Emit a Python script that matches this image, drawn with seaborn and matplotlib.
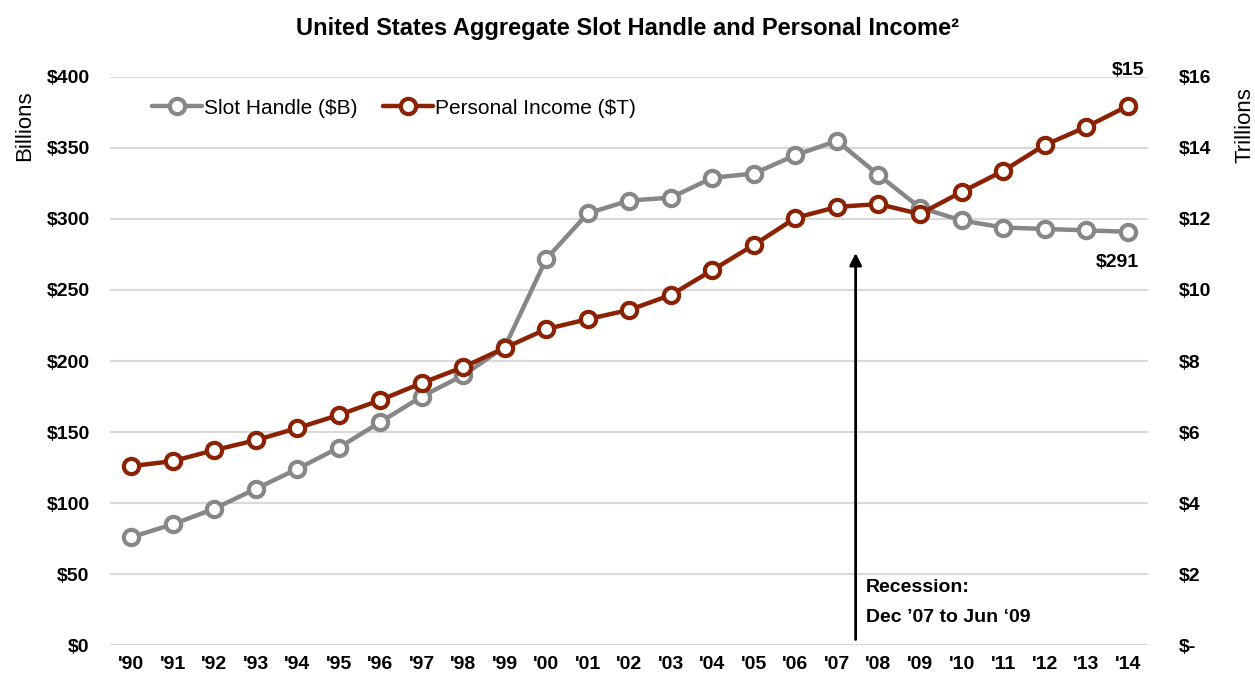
import matplotlib
matplotlib.use("Agg")
import matplotlib.pyplot as plt
import seaborn as sns
import pandas as pd
from matplotlib.lines import Line2D

years = ["'90", "'91", "'92", "'93", "'94", "'95", "'96", "'97", "'98", "'99",
         "'00", "'01", "'02", "'03", "'04", "'05", "'06", "'07", "'08", "'09",
         "'10", "'11", "'12", "'13", "'14"]
slot_handle = [76, 85, 96, 110, 124, 139, 157, 175, 190, 210,
               272, 304, 313, 315, 329, 332, 345, 355, 331, 308,
               299, 294, 293, 292, 291]
personal_income = [5.04, 5.18, 5.49, 5.77, 6.11, 6.48, 6.90, 7.38, 7.83, 8.37,
                   8.90, 9.18, 9.44, 9.86, 10.56, 11.27, 12.03, 12.34, 12.42, 12.14,
                   12.76, 13.35, 14.08, 14.59, 15.18]
left_ticks = [0, 50, 100, 150, 200, 250, 300, 350, 400]
right_ticks = [0, 2, 4, 6, 8, 10, 12, 14, 16]

sns.set_style("white")
plt.rcParams["font.family"] = ["Liberation Sans", "DejaVu Sans"]
plt.rcParams["text.color"] = "black"
plt.rcParams["axes.labelcolor"] = "black"
plt.rcParams["xtick.color"] = "black"
plt.rcParams["ytick.color"] = "black"

df = pd.DataFrame({"x": range(len(years)), "slot": slot_handle, "inc": personal_income})

gray = "#878787"
red = "#8B2203"

fig = plt.figure(figsize=(12.55, 6.87), dpi=100)
ax = fig.add_axes([0.088, 0.061, 0.827, 0.827])
ax2 = ax.twinx()

for a in (ax, ax2):
    for s in a.spines.values():
        s.set_visible(False)

ax.set_ylim(0, 400)
ax2.set_ylim(0, 16)
ax.set_xlim(-0.5, 24.5)
ax.set_yticks(left_ticks)
ax.set_yticklabels(["$" + str(t) for t in left_ticks])
ax2.set_yticks(right_ticks)
ax2.set_yticklabels(["$" + str(t) if t else "$-" for t in right_ticks])
ax.yaxis.grid(True, color="#d9d9d9", linewidth=1.5)
ax.set_axisbelow(True)

sns.lineplot(data=df, x="x", y="slot", ax=ax, color=gray, linewidth=3.2,
             marker="o", markersize=11, markerfacecolor="white",
             markeredgecolor=gray, markeredgewidth=3, zorder=3)
sns.lineplot(data=df, x="x", y="inc", ax=ax2, color=red, linewidth=3.2,
             marker="o", markersize=11, markerfacecolor="white",
             markeredgecolor=red, markeredgewidth=3, zorder=3)

ax.set_xticks(range(len(years)))
ax.set_xticklabels(years)
for a in (ax, ax2):
    a.tick_params(length=0, labelsize=14)
    for lab in a.get_xticklabels() + a.get_yticklabels():
        lab.set_fontweight("bold")
ax.tick_params(axis="y", pad=15)
ax2.tick_params(axis="y", pad=22)
ax.tick_params(axis="x", pad=8)
ax.set_xlabel("")
ax.set_ylabel("Billions", fontsize=16)
ax2.set_ylabel("Trillions", fontsize=16)
ax.yaxis.set_label_coords(-0.073, 0.915)
ax2.yaxis.set_label_coords(1.083, 0.915)

handles = [Line2D([], [], color=gray, lw=3.2, marker="o", ms=11, mfc="white", mec=gray, mew=3),
           Line2D([], [], color=red, lw=3.2, marker="o", ms=11, mfc="white", mec=red, mew=3)]
ax.legend(handles, ["Slot Handle ($B)", "Personal Income ($T)"], loc="upper left",
          bbox_to_anchor=(0.022, 0.995), ncol=2, frameon=False, fontsize=15,
          handlelength=2.4, handletextpad=0.1, columnspacing=1.2)

ax.annotate("", xy=(17.45, 278), xytext=(17.45, 2),
            arrowprops=dict(arrowstyle="-|>", color="black", lw=2, mutation_scale=18))
ax.text(17.7, 30, "Recession:\nDec \u201907 to Jun \u201809", fontsize=14,
        fontweight="bold", ha="left", va="center", linespacing=1.95)
ax2.text(24, 15.18 + 0.75, "$15", fontsize=14, fontweight="bold", ha="center", va="bottom")
ax.text(23.75, 291 - 16, "$291", fontsize=14, fontweight="bold", ha="center", va="top")

fig.suptitle("United States Aggregate Slot Handle and Personal Income\u00b2", y=0.975,
             fontsize=17, fontweight="bold")

fig.savefig("out.png", dpi=100)
